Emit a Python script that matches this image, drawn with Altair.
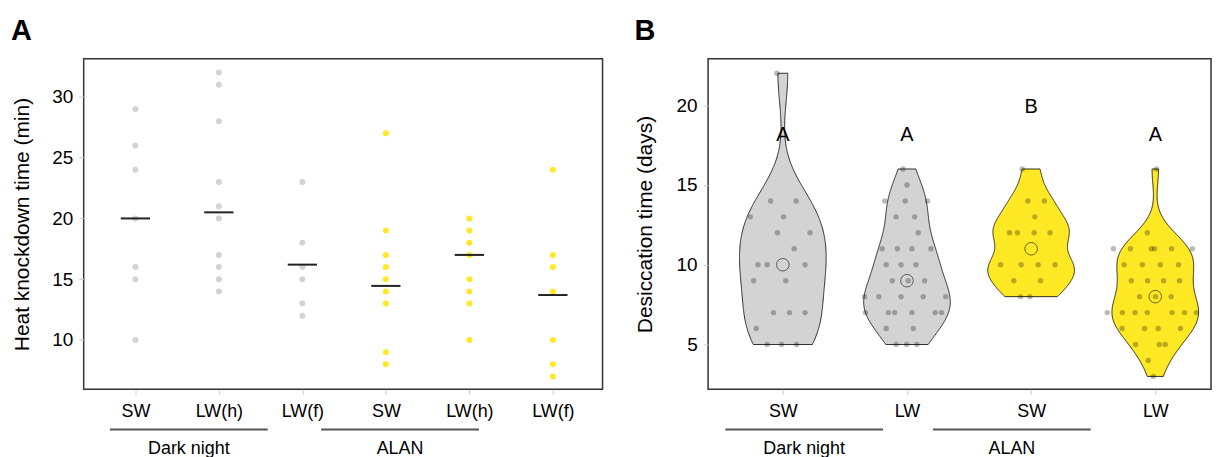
import json
import numpy as np
import pandas as pd
import altair as alt

FONT = "Liberation Sans"
GREY = "#d3d3d3"
YELLOW = "#FFE925"

# ---------------- Panel A : heat knockdown time ----------------
hkd_conditions = ["SW", "LW(h)", "LW(f)", "SW", "LW(h)", "LW(f)"]
hkd_group_labels = ["Dark night", "ALAN"]
hkd_sw_dark = [29, 26, 24, 20, 16, 15, 10]
hkd_lwh_dark = [32, 31, 28, 23, 21, 20, 17, 16, 15, 14]
hkd_lwf_dark = [23, 18, 16, 15, 13, 12]
hkd_sw_alan = [27, 19, 17, 16, 15, 14, 13, 9, 8]
hkd_lwh_alan = [20, 19, 18, 17, 15, 14, 13, 10]
hkd_lwf_alan = [24, 17, 16, 14, 10, 8, 7]
hkd_center = [20, 20.5, 16.2, 14.45, 17, 13.7]
hkd_light = ["Dark", "Dark", "Dark", "ALAN", "ALAN", "ALAN"]

# ---------------- Panel B : desiccation time ----------------
des_conditions = ["SW", "LW", "SW", "LW"]
des_group_labels = ["Dark night", "ALAN"]
des_light = ["Dark", "Dark", "ALAN", "ALAN"]
des_sw_dark = [22, 14, 14, 13, 13, 12, 12, 11, 10, 10, 10, 9, 9, 7, 7, 7, 6, 5, 5, 5]
des_sw_dark_jit = [-0.048, -0.099, 0.107, -0.262, 0.006, -0.043, 0.219, 0.091, -0.2, -0.126,
                   0.179, -0.235, 0.024, -0.075, 0.054, 0.179, -0.214, -0.126, -0.010, 0.110]
des_lw_dark = [16, 15, 14, 14, 14, 13, 13, 12, 11, 11, 11, 11, 10, 10, 10, 9, 9, 9,
               8, 8, 8, 8, 8, 7, 7, 7, 7, 7, 7, 6, 6, 5, 5, 5]
des_lw_dark_jit = [-0.032, 0.0, -0.179, -0.014, 0.166, -0.088, 0.062, 0.091, -0.2, -0.078, 0.04, 0.193,
                   -0.168, -0.048, 0.072, -0.118, 0.010, 0.142, -0.343, -0.227, -0.048, 0.131, 0.313,
                   -0.334, -0.15, -0.099, 0.04, 0.227, 0.278, -0.168, 0.051, -0.088, -0.002, 0.08]
des_sw_alan = [16, 14, 14, 13, 12, 12, 12, 12, 10, 10, 10, 10, 9, 9, 8, 8]
des_sw_alan_jit = [-0.072, -0.026, 0.107, 0.03, -0.174, -0.11, 0.024, 0.152, -0.246, -0.08, 0.056,
                   0.193, -0.139, 0.075, -0.086, -0.010]
des_lw_alan = [16, 12, 11, 11, 11, 11, 11, 11, 10, 10, 10, 10, 9, 9, 9, 9, 8, 8, 8,
               7, 7, 7, 7, 7, 7, 7, 6, 6, 6, 6, 5, 5, 5, 4, 3]
des_lw_alan_jit = [0.01, -0.064, -0.337, -0.2, -0.032, -0.006, 0.131, 0.299, -0.251, -0.104, 0.04, 0.187,
                   -0.193, -0.062, 0.067, 0.195, -0.126, 0.002, 0.128, -0.387, -0.265, -0.163, -0.064,
                   0.136, 0.235, 0.331, -0.267, -0.086, 0.024, 0.203, -0.158, 0.032, 0.08, -0.056, -0.016]
des_letters = ["A", "A", "B", "A"]
des_letter_y = [18.1, 18.1, 19.9, 18.1]

# ---------------- layout constants ----------------
W_A, H = 521, 332
W_B = 505
XDOM_A = [-0.619, 5.595]
YDOM_A = [5.94, 33.14]
XDOM_B = [-0.602, 3.449]
YDOM_B = [2.19, 22.91]
GROUP_C_A = [0.64, 3.17]
GROUP_HW_A = 0.945
GROUP_C_B = [0.172, 1.845]
GROUP_HW_B = 0.635
RULE_Y = 372.3
LABEL_Y = 396.6
VIOLIN_HALF = 0.349

# ---------------- data tables ----------------
hkd_series = [hkd_sw_dark, hkd_lwh_dark, hkd_lwf_dark, hkd_sw_alan, hkd_lwh_alan, hkd_lwf_alan]
rows = []
for i, vals in enumerate(hkd_series):
    for v in vals:
        rows.append({"idx": i, "value": v, "light": hkd_light[i]})
dfA = pd.DataFrame(rows)
dfA_center = pd.DataFrame({"idx": list(range(6)), "center": hkd_center})

des_series = [des_sw_dark, des_lw_dark, des_sw_alan, des_lw_alan]
des_jits = [des_sw_dark_jit, des_lw_dark_jit, des_sw_alan_jit, des_lw_alan_jit]
rows = []
for i, (vals, jits) in enumerate(zip(des_series, des_jits)):
    for v, j in zip(vals, jits):
        rows.append({"idx": i, "value": v, "xpos": i + j, "light": des_light[i]})
dfB = pd.DataFrame(rows)
dfB_letters = pd.DataFrame({"idx": list(range(4)), "y": des_letter_y, "letter": des_letters})

color_scale = alt.Scale(domain=["Dark", "ALAN"], range=[GREY, YELLOW])


def nrd0(x):
    x = np.asarray(x, dtype=float)
    sd = x.std(ddof=1)
    q75, q25 = np.percentile(x, [75, 25])
    lo = min(sd, (q75 - q25) / 1.34)
    if lo <= 0:
        lo = sd
    return 0.9 * lo * len(x) ** (-0.2)


def x_axis(labels):
    return alt.Axis(values=list(range(len(labels))),
                    labelExpr=json.dumps(labels) + "[datum.value]",
                    title=None, grid=False, domain=False, ticks=True,
                    tickColor="#cccccc", tickSize=5, labelPadding=8,
                    labelFontSize=18, labelColor="black", labelFont=FONT)


def y_axis(title, values, tpad):
    return alt.Axis(values=values, title=title, grid=False, domain=False,
                    tickColor="#cccccc", tickSize=5, labelPadding=6,
                    labelFontSize=19, labelColor="black", labelFont=FONT,
                    titleFontSize=21, titleFontWeight="normal", titleColor="black",
                    titleFont=FONT, titlePadding=tpad)


# ---------------- Panel A ----------------
xsA = alt.Scale(domain=XDOM_A, nice=False, zero=False)
ysA = alt.Scale(domain=YDOM_A, nice=False, zero=False)
xaxA = x_axis(hkd_conditions)
yaxA = y_axis("Heat knockdown time (min)", [10, 15, 20, 25, 30], 19)

ptsA = alt.Chart(dfA).mark_circle(size=36, opacity=1).encode(
    x=alt.X("idx:Q", scale=xsA, axis=xaxA),
    y=alt.Y("value:Q", scale=ysA, axis=yaxA),
    color=alt.Color("light:N", scale=color_scale, legend=None),
)
lineA = alt.Chart(dfA_center).transform_calculate(
    x1="datum.idx - 0.175", x2="datum.idx + 0.175"
).mark_rule(color="#222222", strokeWidth=2).encode(
    x=alt.X("x1:Q", scale=xsA, axis=xaxA),
    x2="x2:Q",
    y=alt.Y("center:Q", scale=ysA, axis=yaxA),
)
grpA = pd.DataFrame({"label": hkd_group_labels, "gc": GROUP_C_A})
grpRuleA = alt.Chart(grpA).transform_calculate(
    g1=f"datum.gc - {GROUP_HW_A}", g2=f"datum.gc + {GROUP_HW_A}"
).mark_rule(color="#555555", strokeWidth=2).encode(
    x=alt.X("g1:Q", scale=xsA, axis=xaxA), x2="g2:Q", y=alt.value(RULE_Y)
)
grpTextA = alt.Chart(grpA).mark_text(fontSize=18, font=FONT, baseline="alphabetic",
                                     align="center", color="black").encode(
    x=alt.X("gc:Q", scale=xsA, axis=xaxA), y=alt.value(LABEL_Y), text="label:N"
)
letterA = alt.Chart(pd.DataFrame({"t": ["A"]})).mark_text(
    fontSize=29, fontWeight="bold", font=FONT, align="left", baseline="alphabetic", color="black"
).encode(x=alt.value(-73), y=alt.value(-18.7), text="t:N")

panelA = alt.layer(ptsA, lineA, grpRuleA, grpTextA, letterA).properties(width=W_A, height=H)

# ---------------- Panel B ----------------
xsB = alt.Scale(domain=XDOM_B, nice=False, zero=False)
ysB = alt.Scale(domain=YDOM_B, nice=False, zero=False)
xaxB = x_axis(des_conditions)
yaxB = y_axis("Desiccation time (days)", [5, 10, 15, 20], 21)

violins = []
for i, vals in enumerate(des_series):
    fill = GREY if des_light[i] == "Dark" else YELLOW
    v = alt.Chart(dfB).transform_filter(
        alt.datum.idx == i
    ).transform_density(
        "value", groupby=["idx"], as_=["value", "density"],
        extent=[float(min(vals)), float(max(vals))], bandwidth=float(nrd0(vals)), steps=256
    ).transform_joinaggregate(
        maxd="max(density)"
    ).transform_calculate(
        left=f"datum.idx - {VIOLIN_HALF} * datum.density / datum.maxd",
        right=f"datum.idx + {VIOLIN_HALF} * datum.density / datum.maxd",
    ).mark_area(orient="horizontal", fill=fill, stroke="black", strokeWidth=0.8).encode(
        y=alt.Y("value:Q", scale=ysB, axis=yaxB),
        x=alt.X("left:Q", scale=xsB, axis=xaxB),
        x2="right:Q",
    )
    violins.append(v)

ptsB = alt.Chart(dfB).mark_circle(size=30, color="black", opacity=0.27).encode(
    x=alt.X("xpos:Q", scale=xsB, axis=xaxB),
    y=alt.Y("value:Q", scale=ysB, axis=yaxB),
)
medB = alt.Chart(dfB).transform_aggregate(
    med="median(value)", groupby=["idx"]
).mark_point(shape="circle", filled=False, size=160, stroke="black", strokeWidth=0.8).encode(
    x=alt.X("idx:Q", scale=xsB, axis=xaxB),
    y=alt.Y("med:Q", scale=ysB, axis=yaxB),
)
lettersB = alt.Chart(dfB_letters).mark_text(fontSize=20, font=FONT, baseline="middle",
                                            color="black").encode(
    x=alt.X("idx:Q", scale=xsB, axis=xaxB),
    y=alt.Y("y:Q", scale=ysB, axis=yaxB),
    text="letter:N",
)
grpB = pd.DataFrame({"label": des_group_labels, "gc": GROUP_C_B})
grpRuleB = alt.Chart(grpB).transform_calculate(
    g1=f"datum.gc - {GROUP_HW_B}", g2=f"datum.gc + {GROUP_HW_B}"
).mark_rule(color="#555555", strokeWidth=2).encode(
    x=alt.X("g1:Q", scale=xsB, axis=xaxB), x2="g2:Q", y=alt.value(RULE_Y)
)
grpTextB = alt.Chart(grpB).mark_text(fontSize=18, font=FONT, baseline="alphabetic",
                                     align="center", color="black").encode(
    x=alt.X("gc:Q", scale=xsB, axis=xaxB), y=alt.value(LABEL_Y), text="label:N"
)
letterB = alt.Chart(pd.DataFrame({"t": ["B"]})).mark_text(
    fontSize=29, fontWeight="bold", font=FONT, align="left", baseline="alphabetic", color="black"
).encode(x=alt.value(-74), y=alt.value(-18.4), text="t:N")

panelB = alt.layer(*violins, ptsB, medB, lettersB, grpRuleB, grpTextB, letterB).properties(
    width=W_B, height=H)

chart = alt.hconcat(panelA, panelB, spacing=30).properties(
    padding={"left": 2, "top": 7, "right": 2, "bottom": 0}
).configure(font=FONT).configure_view(stroke="#333333", strokeWidth=1.5)

chart.save("out.html", embed_options={"renderer": "svg", "actions": False})
